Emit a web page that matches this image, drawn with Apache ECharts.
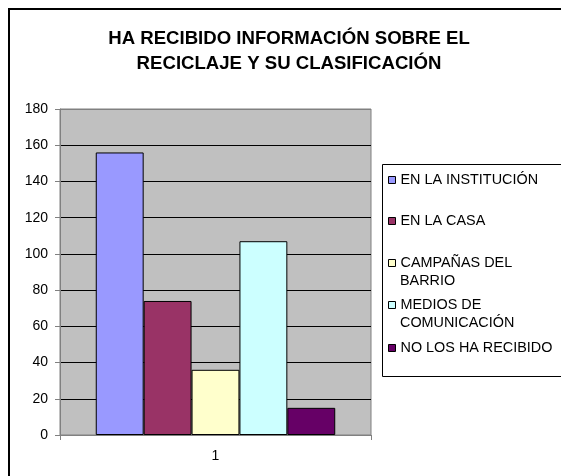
<!DOCTYPE html>
<html>
<head>
<meta charset="utf-8">
<script src="https://cdn.jsdelivr.net/npm/echarts@6/dist/echarts.min.js"></script>
<style>
  html, body { margin: 0; padding: 0; background: #fff; }
  #chart { width: 561px; height: 476px; }
</style>
</head>
<body>
<div id="chart"></div>
<script>
// datos
var categorias = ['1'];
var series = ['EN LA INSTITUCIÓN', 'EN LA CASA', 'CAMPAÑAS DEL BARRIO', 'MEDIOS DE COMUNICACIÓN', 'NO LOS HA RECIBIDO'];
var valores = [156, 74, 36, 107, 15];
var colores = ['#9999FF', '#993366', '#FFFFCC', '#CCFFFF', '#660066'];
// primera y segunda linea de cada texto de la leyenda
var lineaUno = ['EN LA INSTITUCIÓN', 'EN LA CASA', 'CAMPAÑAS DEL', 'MEDIOS DE', 'NO LOS HA RECIBIDO'];
var lineaDos = ['', '', 'BARRIO', 'COMUNICACIÓN', ''];
var topLeyenda = [171, 212, 254, 296, 339];

var fuente = '"Liberation Sans", Arial, sans-serif';

var chartDom = document.getElementById('chart');
var myChart = echarts.init(chartDom);

function leyenda(nombre, texto, top, conIcono) {
	return {
		data: [nombre],
		left: 388,
		top: top,
		padding: 0,
		orient: 'vertical',
		icon: conIcono ? 'rect' : 'none',
		itemWidth: 7,
		itemHeight: 7,
		selectedMode: false,
		itemStyle: { borderColor: '#000', borderWidth: 1 },
		formatter: function () { return texto; },
		textStyle: {
			fontFamily: fuente,
			fontSize: 14.4,
			color: '#000',
			lineHeight: 18
		}
	};
}

var leyendas = [];
series.forEach(function (nombre, i) {
	leyendas.push(leyenda(nombre, lineaUno[i], topLeyenda[i], true));
	if (lineaDos[i]) {
		leyendas.push(leyenda(nombre, lineaDos[i], topLeyenda[i] + 18, false));
	}
});

var coloresRejilla = ['#000', '#000', '#000', '#000', '#000', '#000', '#000', '#000', '#000', '#808080'];

var option = {
	backgroundColor: '#fff',
	animation: false,
	title: {
		text: 'HA RECIBIDO INFORMACIÓN SOBRE EL\nRECICLAJE Y SU CLASIFICACIÓN',
		left: 289,
		top: 26,
		padding: 0,
		textAlign: 'center',
		textStyle: {
			fontFamily: fuente,
			fontSize: 18.6,
			fontWeight: 'bold',
			color: '#000',
			lineHeight: 25
		}
	},
	graphic: [
		{
			type: 'rect',
			z: 0,
			shape: { x: 9, y: 9, width: 620, height: 520 },
			style: { fill: 'none', stroke: '#000', lineWidth: 2 }
		},
		{
			type: 'rect',
			z: 1,
			shape: { x: 382.5, y: 164.5, width: 200, height: 212 },
			style: { fill: '#fff', stroke: '#000', lineWidth: 1 }
		}
	],
	legend: leyendas,
	grid: {
		left: 60,
		top: 109,
		width: 311,
		height: 326,
		show: true,
		backgroundColor: '#C0C0C0',
		borderColor: '#808080',
		borderWidth: 1
	},
	xAxis: {
		type: 'category',
		data: categorias,
		axisLine: { lineStyle: { color: '#808080', width: 1 } },
		axisTick: { show: true, length: 5, lineStyle: { color: '#808080' } },
		axisLabel: { margin: 14, fontFamily: fuente, fontSize: 14, color: '#000' }
	},
	yAxis: {
		type: 'value',
		min: 0,
		max: 180,
		interval: 20,
		axisLine: { show: true, lineStyle: { color: '#808080', width: 1 } },
		axisTick: { show: true, length: 5, lineStyle: { color: '#808080' } },
		axisLabel: { margin: 12, fontFamily: fuente, fontSize: 14, color: '#000' },
		splitLine: { show: true, lineStyle: { color: coloresRejilla, width: 1 } }
	},
	series: series.map(function (nombre, i) {
		return {
			name: nombre,
			type: 'bar',
			data: [valores[i]],
			barGap: 0,
			barCategoryGap: '23%',
			itemStyle: { color: colores[i], borderColor: '#000', borderWidth: 1 }
		};
	})
};
option && myChart.setOption(option);
</script>
</body>
</html>
